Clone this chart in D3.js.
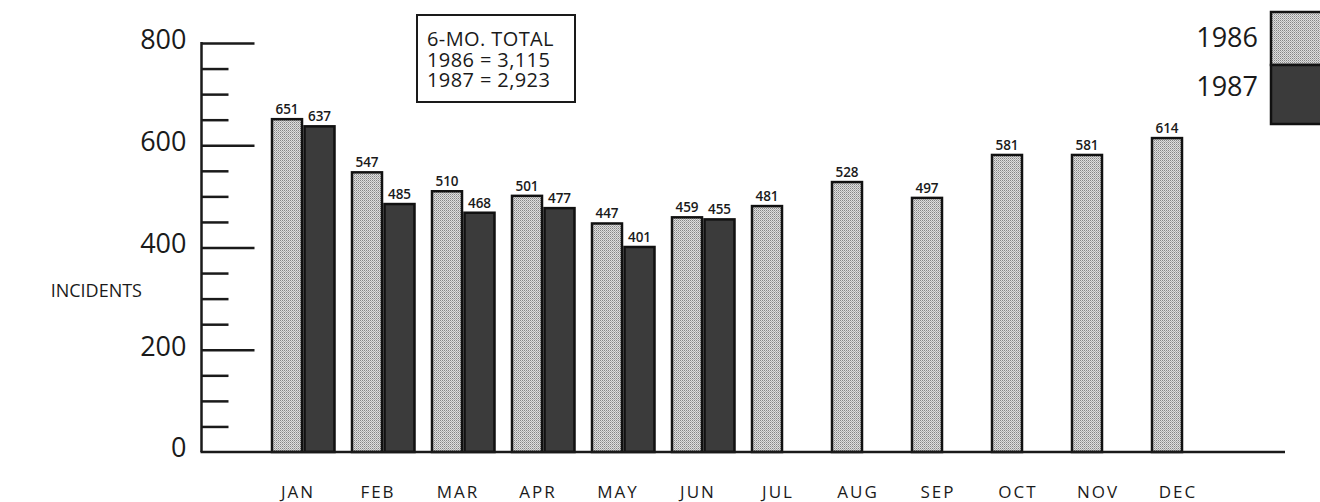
<!DOCTYPE html>
<html>
<head>
<meta charset="utf-8">
<script src="https://cdn.jsdelivr.net/npm/d3@7"></script>
<style>
  html, body { margin: 0; padding: 0; background: #ffffff; }
  svg { display: block; }
  text { font-family: "Open Sans", "DejaVu Sans", sans-serif; fill: #1a1a1a; }
</style>
</head>
<body>
<script>
// ---- data ----
const months = ["JAN","FEB","MAR","APR","MAY","JUN","JUL","AUG","SEP","OCT","NOV","DEC"];
const values1986 = [651, 547, 510, 501, 447, 459, 481, 528, 497, 581, 581, 614];
const values1987 = [637, 485, 468, 477, 401, 455];
const seriesNames = ["1986", "1987"];
const majorTicks = [0, 200, 400, 600, 800];
const minorTicks = [50, 100, 150, 250, 300, 350, 450, 500, 550, 650, 700, 750];
const totalLines = ["6-MO. TOTAL", "1986 = 3,115", "1987 = 2,923"];
const yTitle = "INCIDENTS";

// ---- layout ----
const W = 1320, H = 502;
const svg = d3.select("body").append("svg").attr("width", W).attr("height", H);

const defs = svg.append("defs");
const pat = defs.append("pattern").attr("id", "stip").attr("patternUnits", "userSpaceOnUse")
  .attr("width", 2).attr("height", 2);
pat.append("rect").attr("width", 2).attr("height", 2).attr("fill", "#dedede");
pat.append("rect").attr("width", 1).attr("height", 1).attr("fill", "#858585");
pat.append("rect").attr("x", 1).attr("y", 1).attr("width", 1).attr("height", 1).attr("fill", "#adadad");

const x = d3.scaleBand().domain(months).range([255, 1215]).paddingInner(0).paddingOuter(0);
const y = d3.scaleLinear().domain([0, 800]).range([452, 43]);
const axisX = 201.5;

// minor ticks
const minorAxis = d3.axisLeft(y).tickValues(minorTicks).tickSizeInner(-27).tickSizeOuter(0).tickFormat("");
const gMinor = svg.append("g").attr("transform", `translate(${axisX},0)`).call(minorAxis);
gMinor.select(".domain").remove();
gMinor.selectAll(".tick line").attr("stroke", "#1a1a1a").attr("stroke-width", 2.5);

// major ticks + labels
const majorAxis = d3.axisLeft(y).tickValues(majorTicks.filter(d => d > 0)).tickSizeInner(-53).tickSizeOuter(0).tickPadding(15);
const gMajor = svg.append("g").attr("transform", `translate(${axisX},0)`).call(majorAxis);
gMajor.select(".domain").remove();
gMajor.selectAll(".tick line").attr("stroke", "#1a1a1a").attr("stroke-width", 2.5);
gMajor.selectAll(".tick text").attr("font-size", 27).attr("dy", "0.2em").attr("font-weight", 500)
  .attr("font-family", "'Open Sans', sans-serif").attr("fill", "#1a1a1a");

// zero label
svg.append("text").attr("x", axisX - 15).attr("y", y(0)).attr("dy", "0.2em").attr("font-weight", 500)
  .attr("text-anchor", "end").attr("font-size", 27).text(d3.format("d")(0));

// axis vertical line
svg.append("line").attr("x1", axisX).attr("x2", axisX).attr("y1", y(800) - 1).attr("y2", y(0))
  .attr("stroke", "#1a1a1a").attr("stroke-width", 2.5);

// bars 1986
const bw = 30;
svg.append("g").selectAll("rect").data(values1986).join("rect")
  .attr("x", (d, i) => x(months[i]) + 17)
  .attr("y", d => y(d))
  .attr("width", bw)
  .attr("height", d => y(0) - y(d))
  .attr("fill", "url(#stip)")
  .attr("stroke", "#111").attr("stroke-width", 2.5);

// bars 1987
svg.append("g").selectAll("rect").data(values1987).join("rect")
  .attr("x", (d, i) => x(months[i]) + 49.5)
  .attr("y", d => y(d))
  .attr("width", bw)
  .attr("height", d => y(0) - y(d))
  .attr("fill", "#3b3b3b")
  .attr("stroke", "#111").attr("stroke-width", 2.5);

// value labels
svg.append("g").selectAll("text").data(values1986).join("text")
  .attr("x", (d, i) => x(months[i]) + 17 + bw / 2)
  .attr("y", d => y(d) - 5)
  .attr("text-anchor", "middle").attr("font-size", 13.5).attr("font-weight", 600)
  .text(d => d);
svg.append("g").selectAll("text").data(values1987).join("text")
  .attr("x", (d, i) => x(months[i]) + 49.5 + bw / 2)
  .attr("y", d => y(d) - 5)
  .attr("text-anchor", "middle").attr("font-size", 13.5).attr("font-weight", 600)
  .text(d => d);

// baseline
svg.append("line").attr("x1", axisX - 1).attr("x2", 1285).attr("y1", y(0)).attr("y2", y(0))
  .attr("stroke", "#1a1a1a").attr("stroke-width", 2.5);

// month labels
svg.append("g").selectAll("text").data(months).join("text")
  .attr("x", d => x(d) + 43).attr("y", 498)
  .attr("text-anchor", "middle").attr("font-size", 17).attr("letter-spacing", 2)
  .text(d => d);

// y title
svg.append("text").attr("x", 142).attr("y", 297).attr("text-anchor", "end")
  .attr("font-size", 18).text(yTitle);

// totals box
svg.append("rect").attr("x", 417).attr("y", 15).attr("width", 158).attr("height", 87)
  .attr("fill", "#fff").attr("stroke", "#1a1a1a").attr("stroke-width", 2);
svg.append("g").selectAll("text").data(totalLines).join("text")
  .attr("x", 427).attr("y", (d, i) => 46 + i * 20.5)
  .attr("font-size", 20).attr("font-weight", 500).attr("letter-spacing", 0.4).text(d => d);

// legend
const legY = [12, 65];
const legH = [53, 59];
svg.append("g").selectAll("rect").data(seriesNames).join("rect")
  .attr("x", 1271).attr("y", (d, i) => legY[i]).attr("width", 60).attr("height", (d, i) => legH[i])
  .attr("fill", (d, i) => i === 0 ? "url(#stip)" : "#3b3b3b")
  .attr("stroke", "#111").attr("stroke-width", 2.5);
svg.append("g").selectAll("text").data(seriesNames).join("text")
  .attr("x", 1258).attr("y", (d, i) => [47, 96][i])
  .attr("text-anchor", "end").attr("font-size", 27).attr("font-weight", 500).text(d => d);
</script>
</body>
</html>
